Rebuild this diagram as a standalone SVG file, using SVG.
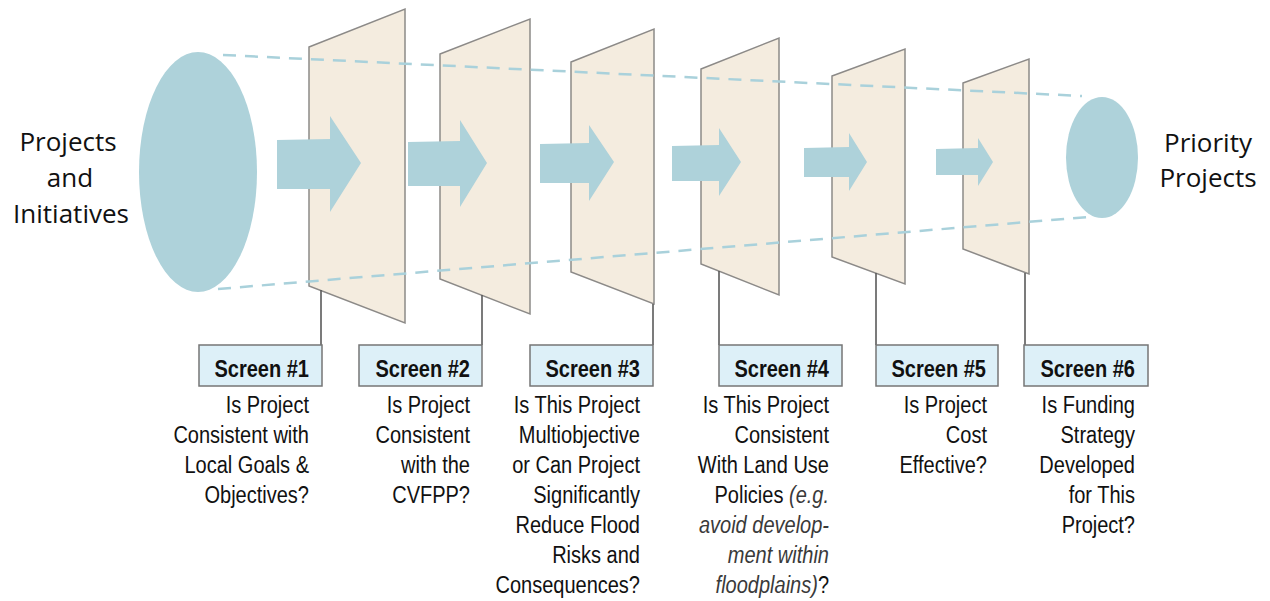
<svg xmlns="http://www.w3.org/2000/svg" width="1270" height="601" viewBox="0 0 1270 601">
<style>
.ell{fill:#aed2da}
.panel{fill:#f4ecdf;stroke:#8c8a88;stroke-width:1.5;stroke-linejoin:miter}
.stem{stroke:#5a5a5a;stroke-width:1.6}
.box{fill:#ddf0f8;stroke:#767676;stroke-width:1.5}
.lbl{font-family:"Liberation Sans",Arial,sans-serif;font-size:23px;font-weight:bold;fill:#111;text-anchor:end}
.q{font-family:"Liberation Sans",Arial,sans-serif;font-size:23px;fill:#111;text-anchor:end}
.it{font-style:italic;fill:#3a3a3a}
.big{font-family:"Open Sans","Noto Sans",sans-serif;font-size:26px;fill:#111;text-anchor:middle}
.dash{fill:none;stroke:#a9d1db;stroke-width:2.5;stroke-dasharray:13 9}
.arr{fill:#aed2da}
</style>
<rect width="1270" height="601" fill="#ffffff"/>

<g id="source">
  <ellipse class="ell" cx="198" cy="172" rx="59" ry="120"/>
  <text class="big"><tspan x="68" y="151">Projects</tspan><tspan x="70" y="187">and</tspan><tspan x="71" y="223">Initiatives</tspan></text>
</g>

<g id="target">
  <ellipse class="ell" cx="1102" cy="157.5" rx="36" ry="60.5"/>
  <text class="big"><tspan x="1208" y="152">Priority</tspan><tspan x="1208" y="187">Projects</tspan></text>
</g>

<g id="screen1">
  <polygon class="panel" points="309,47 405,9 405,323 309,286"/>
  <line class="stem" x1="321" y1="290" x2="321" y2="345"/>
  <rect class="box" x="199" y="345" width="123" height="41"/>
  <text class="lbl" transform="translate(309,0) scale(0.87,1)" x="0" y="377">Screen #1</text>
  <text class="q" transform="translate(309,0) scale(0.87,1)"><tspan x="0" y="413">Is Project</tspan><tspan x="0" y="443">Consistent with</tspan><tspan x="0" y="473">Local Goals &amp;</tspan><tspan x="0" y="503">Objectives?</tspan></text>
</g>

<g id="screen2">
  <polygon class="panel" points="440,54 530,19 530,314 440,279"/>
  <line class="stem" x1="482" y1="295" x2="482" y2="345"/>
  <rect class="box" x="359" y="345" width="123" height="41"/>
  <text class="lbl" transform="translate(470,0) scale(0.87,1)" x="0" y="377">Screen #2</text>
  <text class="q" transform="translate(470,0) scale(0.87,1)"><tspan x="0" y="413">Is Project</tspan><tspan x="0" y="443">Consistent</tspan><tspan x="0" y="473">with the</tspan><tspan x="0" y="503">CVFPP?</tspan></text>
</g>

<g id="screen3">
  <polygon class="panel" points="571,62 654,29 654,304 571,272"/>
  <line class="stem" x1="653" y1="304" x2="653" y2="345"/>
  <rect class="box" x="530" y="345" width="123" height="41"/>
  <text class="lbl" transform="translate(640,0) scale(0.87,1)" x="0" y="377">Screen #3</text>
  <text class="q" transform="translate(640,0) scale(0.87,1)"><tspan x="0" y="413">Is This Project</tspan><tspan x="0" y="443">Multiobjective</tspan><tspan x="0" y="473">or Can Project</tspan><tspan x="0" y="503">Significantly</tspan><tspan x="0" y="533">Reduce Flood</tspan><tspan x="0" y="563">Risks and</tspan><tspan x="0" y="593">Consequences?</tspan></text>
</g>

<g id="screen4">
  <polygon class="panel" points="701,69 779,38 779,295 701,264"/>
  <line class="stem" x1="719" y1="271" x2="719" y2="345"/>
  <rect class="box" x="719" y="345" width="123" height="41"/>
  <text class="lbl" transform="translate(829,0) scale(0.87,1)" x="0" y="377">Screen #4</text>
  <text class="q" transform="translate(829,0) scale(0.87,1)"><tspan x="0" y="413">Is This Project</tspan><tspan x="0" y="443">Consistent</tspan><tspan x="0" y="473">With Land Use</tspan><tspan x="0" y="503">Policies <tspan class="it">(e.g.</tspan></tspan><tspan x="0" y="533" class="it">avoid develop-</tspan><tspan x="0" y="563" class="it">ment within</tspan><tspan x="0" y="593"><tspan class="it">floodplains)</tspan>?</tspan></text>
</g>

<g id="screen5">
  <polygon class="panel" points="832,76 905,49 905,284 832,257"/>
  <line class="stem" x1="876" y1="273" x2="876" y2="345"/>
  <rect class="box" x="876" y="345" width="122" height="41"/>
  <text class="lbl" transform="translate(986,0) scale(0.87,1)" x="0" y="377">Screen #5</text>
  <text class="q" transform="translate(987,0) scale(0.87,1)"><tspan x="0" y="413">Is Project</tspan><tspan x="0" y="443">Cost</tspan><tspan x="0" y="473">Effective?</tspan></text>
</g>

<g id="screen6">
  <polygon class="panel" points="963,83 1029,59 1029,274 963,249"/>
  <line class="stem" x1="1025" y1="273" x2="1025" y2="345"/>
  <rect class="box" x="1024" y="345" width="124" height="41"/>
  <text class="lbl" transform="translate(1135,0) scale(0.87,1)" x="0" y="377">Screen #6</text>
  <text class="q" transform="translate(1135,0) scale(0.87,1)"><tspan x="0" y="413">Is Funding</tspan><tspan x="0" y="443">Strategy</tspan><tspan x="0" y="473">Developed</tspan><tspan x="0" y="503">for This</tspan><tspan x="0" y="533">Project?</tspan></text>
</g>

<g id="connectors">
  <line class="dash" x1="223" y1="55" x2="1082" y2="96"/>
  <line class="dash" x1="218" y1="289" x2="1088" y2="217"/>
  <polygon class="arr" points="277,140 330,139 330,116 361,163 330,212 330,189 277,189"/>
  <polygon class="arr" points="408,142 460,141 460,120 487,163 460,207 460,186 408,186"/>
  <polygon class="arr" points="540,144 589,143 589,125 614,162 589,201 589,183 540,183"/>
  <polygon class="arr" points="672,146 719,145 719,128 741,162 719,196 719,181 672,181"/>
  <polygon class="arr" points="804,148 849,147 849,133 867,162 849,191 849,177 804,177"/>
  <polygon class="arr" points="936,149 978,148 978,138 993,162 978,186 978,175 936,175"/>
</g>
</svg>
